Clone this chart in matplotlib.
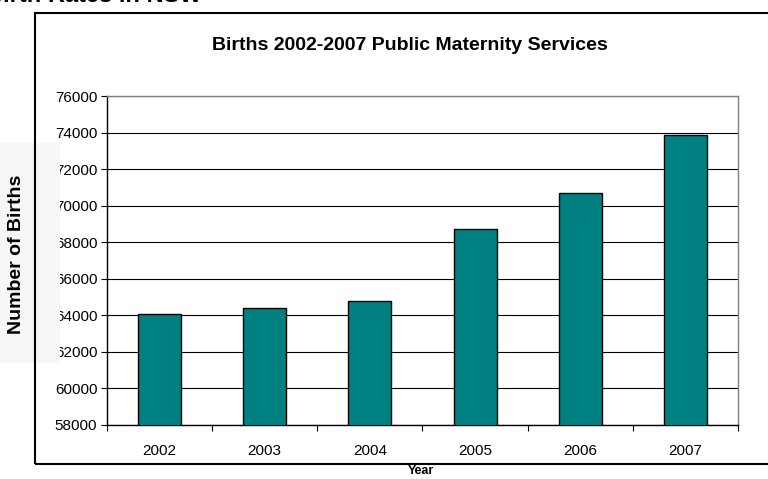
import matplotlib
matplotlib.use("Agg")
import matplotlib.pyplot as plt
from matplotlib.patches import Rectangle
import numpy as np

plt.rcParams["font.family"] = ["Liberation Sans", "DejaVu Sans"]

YEARS = ["2002", "2003", "2004", "2005", "2006", "2007"]
BIRTHS = [64080, 64380, 64770, 68730, 70700, 73870]
Y_TICKS = list(range(58000, 76001, 2000))

W, H = 768, 479


def px_x(x):
    return x / W


def px_y(y):
    return 1 - y / H


fig = plt.figure(figsize=(W / 100, H / 100), dpi=100)
ax = fig.add_axes([px_x(107), px_y(425), px_x(738) - px_x(107), px_y(96) - px_y(425)])

x = np.arange(len(YEARS))
ax.bar(x, BIRTHS, width=0.41, color="#008080", edgecolor="black", linewidth=1.0, zorder=3)

ax.set_ylim(58000, 76000)
ax.set_yticks(Y_TICKS)
ax.set_yticklabels([str(v) for v in Y_TICKS], fontsize=11)
ax.yaxis.grid(True, color="black", linewidth=0.8, zorder=1)
ax.set_axisbelow(True)
ax.tick_params(axis="y", direction="out", length=4, width=0.8, pad=3)

ax.set_xlim(-0.5, len(YEARS) - 0.5)
ax.set_xticks(x)
ax.set_xticklabels(YEARS, fontsize=11)
ax.set_xticks(np.arange(len(YEARS) + 1) - 0.5, minor=True)
ax.tick_params(axis="x", which="major", length=0, pad=14)
ax.tick_params(axis="x", which="minor", direction="out", length=4, width=0.8)

for side in ("top", "right"):
    ax.spines[side].set_color("#808080")
    ax.spines[side].set_linewidth(1.0)
for side in ("left", "bottom"):
    ax.spines[side].set_color("black")
    ax.spines[side].set_linewidth(1.0)

# pale panel lying over the left labels
fig.patches.append(Rectangle((0, px_y(363)), px_x(60), px_y(143) - px_y(363),
                             transform=fig.transFigure, facecolor="#f6f6f6",
                             edgecolor="none", zorder=1))
# chart frame, running off the right edge
fig.patches.append(Rectangle((px_x(35), px_y(464)), 1.0, px_y(13) - px_y(464),
                             transform=fig.transFigure, facecolor="none",
                             edgecolor="black", linewidth=1.5, zorder=2))

fig.text(px_x(410), px_y(45), "Births 2002-2007 Public Maternity Services",
         ha="center", va="center", fontsize=14, fontweight="bold", zorder=3)
fig.text(px_x(17), px_y(254), "Number of Births", rotation=90,
         ha="center", va="center", fontsize=14, fontweight="bold", zorder=3)
fig.text(px_x(421), px_y(465), "Year", ha="center", va="top",
         fontsize=9, fontweight="bold", zorder=3)
fig.text(px_x(-14), px_y(2), "Birth Rates in NSW", ha="left", va="baseline",
         fontsize=17, fontweight="bold", zorder=3)

fig.savefig("out.png", dpi=100)
